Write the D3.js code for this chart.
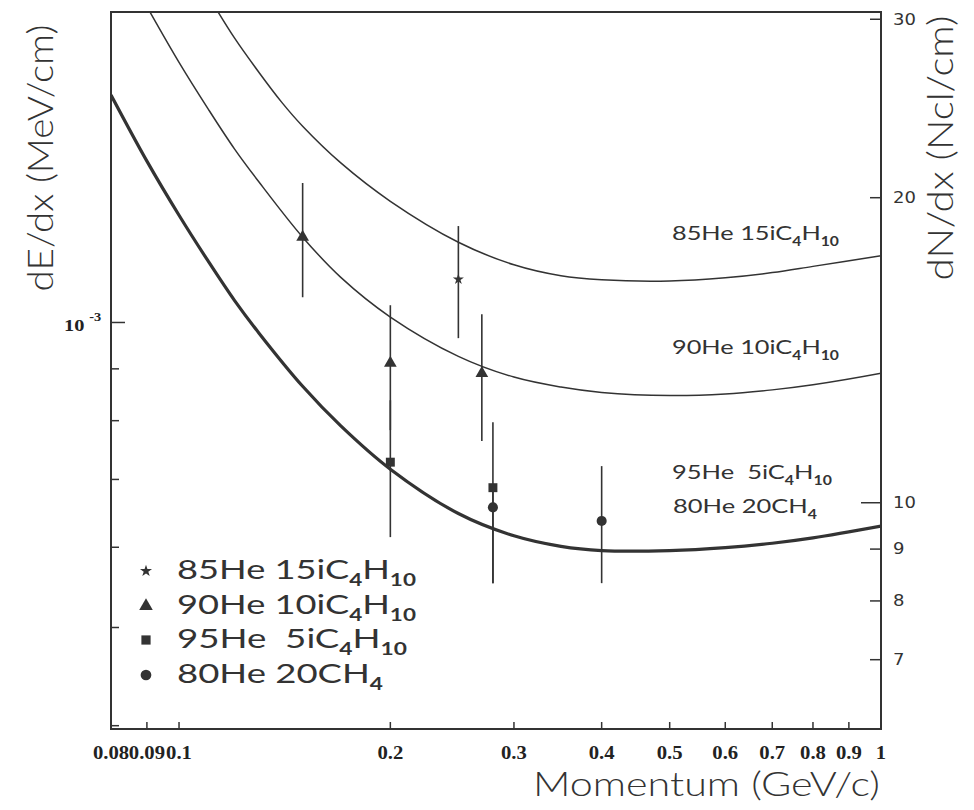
<!DOCTYPE html>
<html><head><meta charset="utf-8">
<script src="https://cdn.jsdelivr.net/npm/d3@7"></script>
<style>body{margin:0;background:#fff} svg{display:block}</style>
</head><body>
<svg id="c" width="974" height="810"></svg>
<script>
// ---------- data ----------
const xTicks = [0.08,0.09,0.1,0.2,0.3,0.4,0.5,0.6,0.7,0.8,0.9,1];
const xTickLabels = ["0.08","0.09","0.1","0.2","0.3","0.4","0.5","0.6","0.7","0.8","0.9","1"];
const leftMajorTicks = [1e-3];
const leftMinorTicks = [9e-4,8e-4,7e-4,6e-4,5e-4,4e-4];
const rightTicks = [30,20,10,9,8,7];

// theoretical curves: momentum (GeV/c), dE/dx (MeV/cm)
const curveA_p = [0.11,0.12,0.13,0.14,0.15,0.17,0.2,0.25,0.3,0.35,0.4,0.5,0.6,0.7,0.8,1.0];
const curveA_v = [2.102e-3,1.908e-3,1.765e-3,1.650e-3,1.562e-3,1.437e-3,1.317e-3,1.200e-3,1.140e-3,1.112e-3,1.102e-3,1.099e-3,1.107e-3,1.120e-3,1.136e-3,1.164e-3];
const curveB_p = [0.09,0.1,0.11,0.12,0.13,0.15,0.17,0.2,0.25,0.3,0.35,0.4,0.5,0.6,0.7,0.8,1.0];
const curveB_v = [2.050e-3,1.806e-3,1.625e-3,1.483e-3,1.376e-3,1.214e-3,1.108e-3,1.0125e-3,0.926e-3,0.8833e-3,0.8635e-3,0.853e-3,0.847e-3,0.850e-3,0.858e-3,0.868e-3,0.891e-3];
const curveC_p = [0.08,0.09,0.1,0.11,0.12,0.13,0.15,0.17,0.2,0.25,0.3,0.35,0.4,0.5,0.6,0.7,0.8,1.0];
const curveC_v = [1.677e-3,1.443e-3,1.276e-3,1.150e-3,1.051e-3,0.976e-3,0.865e-3,0.7906e-3,0.7165e-3,0.6478e-3,0.6158e-3,0.6012e-3,0.5955e-3,0.5955e-3,0.5995e-3,0.6055e-3,0.6129e-3,0.6295e-3];

// measurements
const star_p = [0.25], star_v = [1.103e-3], star_lo = [0.965e-3], star_hi = [1.245e-3];
const tri_p = [0.15,0.2,0.27], tri_v = [1.214e-3,0.912e-3,0.891e-3], tri_lo = [1.059e-3,0.783e-3,0.764e-3], tri_hi = [1.373e-3,1.040e-3,1.019e-3];
const sq_p = [0.2,0.28], sq_v = [0.728e-3,0.687e-3], sq_lo = [0.614e-3,0.553e-3], sq_hi = [0.838e-3,0.797e-3];
const circ_p = [0.28,0.4], circ_v = [0.657e-3,0.637e-3], circ_lo = [0.553e-3,0.553e-3], circ_hi = [0.683e-3,0.7215e-3];

const legendNames = [["85He 15iC","4","H","10"],["90He 10iC","4","H","10"],["95He  5iC","4","H","10"],["80He 20CH","4"]];
const curveLabels = [["85He 15iC","4","H","10"],["90He 10iC","4","H","10"],["95He  5iC","4","H","10"],["80He 20CH","4"]];

// ---------- layout ----------
const L = 111, R = 881, T = 12, B = 729;
const ink = "#333";
const SANS = "Lato, 'DejaVu Sans', sans-serif";
const svg = d3.select("#c");
const x = d3.scaleLog().domain([0.08, 1]).range([L, R]);
const y = d3.scaleLog().domain([3.97e-4, 2.025e-3]).range([B, T]);
const yR = d3.scaleLog().domain([5.98, 30.5]).range([B, T]);

svg.append("defs").append("clipPath").attr("id","clip")
  .append("rect").attr("x",L).attr("y",T).attr("width",R-L).attr("height",B-T);

function fitX(sel, target, ax, ay) {
  const w = sel.node().getBBox().width;
  const s = target / w;
  sel.attr("transform", `translate(${ax},${ay}) scale(${s},1) translate(${-ax},${-ay})`);
}
function chem(g, parts, x0, y0, fs, target) {
  const t = g.append("text").attr("x", x0).attr("y", y0)
    .attr("font-family",SANS).attr("font-weight",400).attr("font-size", fs).attr("fill", ink)
    .style("white-space","pre");
  parts.forEach((p,i) => {
    const sub = i % 2 === 1;
    const ts = t.append("tspan").text(p);
    if (sub) ts.attr("font-size", fs*0.62).attr("dy", fs*0.28).attr("font-weight",700);
    else if (i > 0) ts.attr("dy", -fs*0.28);
  });
  fitX(t, target, x0, y0);
  return t;
}

// curves
const line = d3.line().x(d => x(d[0])).y(d => y(d[1])).curve(d3.curveCatmullRom.alpha(0.5));
const cg = svg.append("g").attr("clip-path","url(#clip)").attr("fill","none").attr("stroke", ink);
cg.append("path").attr("d", line(curveA_p.map((p,i)=>[p,curveA_v[i]]))).attr("stroke-width",1.5);
cg.append("path").attr("d", line(curveB_p.map((p,i)=>[p,curveB_v[i]]))).attr("stroke-width",1.5);
cg.append("path").attr("d", line(curveC_p.map((p,i)=>[p,curveC_v[i]]))).attr("stroke-width",3.2);

// error bars + markers
const series = [
  {p:star_p, v:star_v, lo:star_lo, hi:star_hi, sym:d3.symbolStar, size:38},
  {p:tri_p, v:tri_v, lo:tri_lo, hi:tri_hi, sym:d3.symbolTriangle, size:70},
  {p:sq_p, v:sq_v, lo:sq_lo, hi:sq_hi, sym:d3.symbolSquare, size:80},
  {p:circ_p, v:circ_v, lo:circ_lo, hi:circ_hi, sym:d3.symbolCircle, size:80}
];
const mg = svg.append("g");
series.forEach(s => {
  s.p.forEach((p,i) => {
    mg.append("line").attr("x1",x(p)).attr("x2",x(p)).attr("y1",y(s.lo[i])).attr("y2",y(s.hi[i]))
      .attr("stroke",ink).attr("stroke-width",1.6);
  });
});
series.forEach(s => {
  s.p.forEach((p,i) => {
    mg.append("path").attr("d", d3.symbol().type(s.sym).size(s.size)())
      .attr("transform",`translate(${x(p)},${y(s.v[i])})`).attr("fill",ink);
  });
});

// frame
svg.append("rect").attr("x",L).attr("y",T).attr("width",R-L).attr("height",B-T)
  .attr("fill","none").attr("stroke",ink).attr("stroke-width",2);

// bottom ticks (inward)
const ax = svg.append("g").attr("stroke",ink).attr("stroke-width",1.5);
xTicks.forEach(t => ax.append("line").attr("x1",x(t)).attr("x2",x(t)).attr("y1",B).attr("y2",B-7));
xTicks.forEach((t,i) => {
  const xx = x(t);
  svg.append("text").attr("x",xx).attr("y",759).attr("text-anchor","middle")
    .attr("font-family","Liberation Serif").attr("font-weight","bold").attr("font-size",18).attr("fill","#222")
    .attr("transform",`translate(${xx},0) scale(1.15,1) translate(${-xx},0)`)
    .text(xTickLabels[i]);
});

// left ticks
leftMajorTicks.forEach(t => ax.append("line").attr("x1",L).attr("x2",L+14).attr("y1",y(t)).attr("y2",y(t)));
leftMinorTicks.forEach(t => ax.append("line").attr("x1",L).attr("x2",L+8).attr("y1",y(t)).attr("y2",y(t)));
const lt = svg.append("text").attr("x",64).attr("y",y(1e-3)+9)
  .attr("font-family","Liberation Serif").attr("font-weight","bold").attr("font-size",17).attr("fill","#222")
  .attr("transform","translate(64,0) scale(1.2,1) translate(-64,0)");
lt.append("tspan").text("10");
lt.append("tspan").attr("dx",4).attr("dy",-10).attr("font-size",12).text("-3");

// right ticks
rightTicks.forEach(t => ax.append("line").attr("x1",R).attr("x2",R-(t===10?20:11)).attr("y1",yR(t)).attr("y2",yR(t)));
rightTicks.forEach(t => {
  svg.append("text").attr("x",893).attr("y",yR(t)).attr("dy","0.36em")
    .attr("font-family","DejaVu Sans").attr("font-size",15).attr("fill",ink).text(t)
    .attr("transform",`translate(893,0) scale(1.2,1) translate(-893,0)`);
});

// axis titles
const lg = svg.append("g").attr("transform","translate(53,158) rotate(-90)");
const ltt = lg.append("text").attr("x",0).attr("y",0).attr("text-anchor","middle")
  .attr("font-family",SANS).attr("font-weight",300).attr("font-size",36).attr("fill",ink).text("dE/dx (MeV/cm)");
fitX(ltt, 267, 0, 0);
const rg = svg.append("g").attr("transform","translate(953,148) rotate(-90)");
const rtt = rg.append("text").attr("x",0).attr("y",0).attr("text-anchor","middle")
  .attr("font-family",SANS).attr("font-weight",300).attr("font-size",36).attr("fill",ink).text("dN/dx (Ncl/cm)");
fitX(rtt, 265, 0, 0);
const xt = svg.append("text").attr("x",533).attr("y",796)
  .attr("font-family",SANS).attr("font-weight",300).attr("font-size",33).attr("fill",ink).text("Momentum (GeV/c)");
fitX(xt, 347, 533, 796);

// curve labels
const clg = svg.append("g");
const clY = [240,354,479,513], clW = [167,167,160,144], clX = [672,672,672,673];
curveLabels.forEach((parts,i) => chem(clg, parts, clX[i], clY[i], 20, clW[i]));

// legend
const leg = svg.append("g");
const legY = [579,614,648,683], legW = [239,239,230,206];
const legSym = [[d3.symbolStar,45],[d3.symbolTriangle,80],[d3.symbolSquare,85],[d3.symbolCircle,90]];
legendNames.forEach((parts,i) => {
  leg.append("path").attr("d", d3.symbol().type(legSym[i][0]).size(legSym[i][1])())
    .attr("transform",`translate(146,${legY[i]-8})`).attr("fill",ink);
  chem(leg, parts, 177, legY[i], 26, legW[i]);
});
</script>
</body></html>
